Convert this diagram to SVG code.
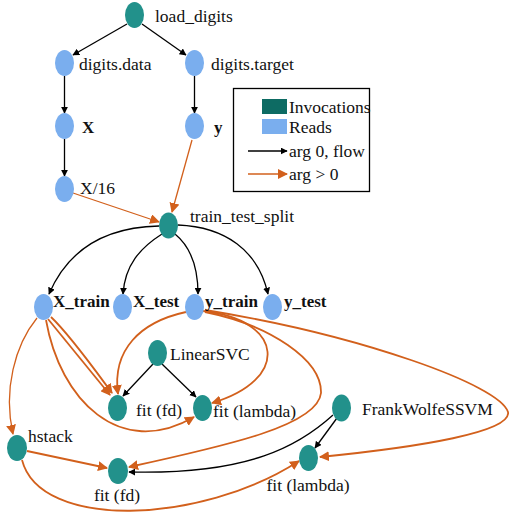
<svg xmlns="http://www.w3.org/2000/svg" width="509" height="516" viewBox="0 0 509 516" font-family="Liberation Serif, DejaVu Serif, serif">
<style>
text{font-family:Liberation Serif, DejaVu Serif, serif;font-size:17.5px;fill:#111}
.b{font-weight:bold;font-size:17px}
.inv{fill:#22918b}
.rd{fill:#7aaeee}
.k{fill:none;stroke:#000;stroke-width:1.3}
.o{fill:none;stroke:#d2601c;stroke-width:1.8}
.o1{fill:none;stroke:#d2601c;stroke-width:1.3}
</style>
<defs>
<marker id="ak" viewBox="0 0 10 10" refX="9" refY="5" markerWidth="7" markerHeight="7" markerUnits="userSpaceOnUse" orient="auto"><path d="M0,0 L10,5 L0,10 z" fill="#000"/></marker>
<marker id="ao" viewBox="0 0 10 10" refX="9" refY="5" markerWidth="10" markerHeight="10" markerUnits="userSpaceOnUse" orient="auto"><path d="M0,0 L10,5 L0,10 z" fill="#d2601c"/></marker>
</defs>
<rect width="509" height="516" fill="#fff"/>
<g id="connectors">
<path class="k" marker-end="url(#ak)" d="M127,24 L73,55"/>
<path class="k" marker-end="url(#ak)" d="M142,24 L186,55"/>
<path class="k" marker-end="url(#ak)" d="M64.5,76 L64.5,113"/>
<path class="k" marker-end="url(#ak)" d="M64.5,139 L64.5,176"/>
<path class="k" marker-end="url(#ak)" d="M194.5,76 L194.5,113"/>
<path class="k" marker-end="url(#ak)" d="M159,226 C110,227 70,245 49,294"/>
<path class="k" marker-end="url(#ak)" d="M162,234 C140,248 125,265 123,294"/>
<path class="k" marker-end="url(#ak)" d="M175,234 C192,248 198,268 198,294"/>
<path class="k" marker-end="url(#ak)" d="M178,225 C225,227 258,250 268,294"/>
<path class="k" marker-end="url(#ak)" d="M153,364 L123,396"/>
<path class="k" marker-end="url(#ak)" d="M162,364 L196,397"/>
<path class="k" marker-end="url(#ak)" d="M337,418 L315,448"/>
<path class="k" marker-end="url(#ak)" d="M333,415 C300,445 250,475 129,472"/>
<path class="o1" marker-end="url(#ao)" d="M73,193 L159,222"/>
<path class="o1" marker-end="url(#ao)" d="M192,140 L172,212"/>
<path class="o1" marker-end="url(#ao)" d="M37,318 C15,345 3,390 13,434"/>
<path class="o" marker-end="url(#ao)" d="M48,319 L110,395"/>
<path class="o" marker-end="url(#ao)" d="M51,317 C70,335 95,370 112,393"/>
<path class="o" marker-end="url(#ao)" d="M46,320 C60,400 120,460 194,417"/>
<path class="o" marker-end="url(#ao)" d="M186,312 C140,322 112,350 118,394"/>
<path class="o" marker-end="url(#ao)" d="M203,311 C285,320 290,380 212,403"/>
<path class="o" marker-end="url(#ao)" d="M205,312 C270,325 322,360 321,393 C318,425 230,445 129,467"/>
<path class="o" marker-end="url(#ao)" d="M205,310 C360,335 500,385 508,412 C512,432 420,447 320,457"/>
<path class="o" marker-end="url(#ao)" d="M27,451 L107,468"/>
<path class="o" marker-end="url(#ao)" d="M22,460 C40,530 200,525 299,461"/>
</g>
<g id="load_digits"><ellipse class="inv" cx="134.5" cy="15" rx="9.5" ry="13"/><text x="155" y="22">load_digits</text></g>
<g id="digits_data"><ellipse class="rd" cx="64.5" cy="63" rx="9.5" ry="13"/><text x="79" y="70">digits.data</text></g>
<g id="digits_target"><ellipse class="rd" cx="194.5" cy="63" rx="9.5" ry="13"/><text x="211" y="70">digits.target</text></g>
<g id="X"><ellipse class="rd" cx="64.5" cy="126" rx="9.5" ry="13"/><text class="b" x="82" y="133">X</text></g>
<g id="y"><ellipse class="rd" cx="194.5" cy="126" rx="9.5" ry="13"/><text class="b" x="214" y="133">y</text></g>
<g id="X16"><ellipse class="rd" cx="64.5" cy="189" rx="9.5" ry="13"/><text x="80" y="194">X/16</text></g>
<g id="train_test_split"><ellipse class="inv" cx="168.5" cy="225.5" rx="9.5" ry="13"/><text x="190" y="222">train_test_split</text></g>
<g id="X_train"><ellipse class="rd" cx="43.5" cy="307" rx="9.5" ry="13"/><text class="b" x="53" y="307">X_train</text></g>
<g id="X_test"><ellipse class="rd" cx="122.5" cy="307" rx="9.5" ry="13"/><text class="b" x="133" y="307">X_test</text></g>
<g id="y_train"><ellipse class="rd" cx="194.5" cy="307" rx="9.5" ry="13"/><text class="b" x="205" y="307">y_train</text></g>
<g id="y_test"><ellipse class="rd" cx="272.5" cy="307" rx="9.5" ry="13"/><text class="b" x="284" y="307">y_test</text></g>
<g id="LinearSVC"><ellipse class="inv" cx="157.5" cy="353" rx="9.5" ry="13"/><text x="170" y="360">LinearSVC</text></g>
<g id="fit_fd_1"><ellipse class="inv" cx="117.5" cy="408" rx="9.5" ry="13"/><text x="136" y="416">fit (fd)</text></g>
<g id="fit_lambda_1"><ellipse class="inv" cx="202.5" cy="408" rx="9.5" ry="13"/><text x="213" y="417">fit (lambda)</text></g>
<g id="hstack"><ellipse class="inv" cx="17" cy="448" rx="10" ry="13"/><text x="28" y="442">hstack</text></g>
<g id="fit_fd_2"><ellipse class="inv" cx="118" cy="471" rx="10" ry="13"/><text x="117" y="501" text-anchor="middle">fit (fd)</text></g>
<g id="FrankWolfeSSVM"><ellipse class="inv" cx="341.5" cy="408" rx="9.5" ry="13.5"/><text x="362" y="415">FrankWolfeSSVM</text></g>
<g id="fit_lambda_2"><ellipse class="inv" cx="308.5" cy="458" rx="9.5" ry="13"/><text x="308" y="491" text-anchor="middle">fit (lambda)</text></g>
<g id="legend">
<rect x="233.5" y="88.5" width="136" height="103" fill="#fff" stroke="#000" stroke-width="1.3"/>
<rect x="262" y="99" width="25" height="15" fill="#0d6b63"/>
<rect x="262" y="119" width="25" height="15" fill="#7aaeee"/>
<text x="289" y="113">Invocations</text>
<text x="289" y="133">Reads</text>
<path class="k" marker-end="url(#ak)" d="M248,151 L287,151"/>
<path class="o1" marker-end="url(#ao)" d="M248,174 L287,174"/>
<text x="289" y="157">arg 0, flow</text>
<text x="289" y="180">arg &gt; 0</text>
</g>
</svg>
